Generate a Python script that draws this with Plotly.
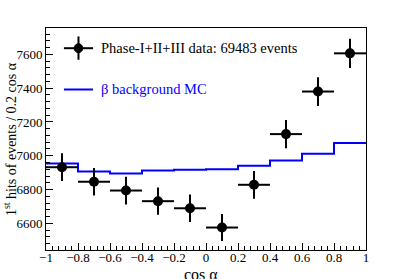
import plotly.graph_objects as go

# data points (bin centres, counts)
cos_centers = [-0.9, -0.7, -0.5, -0.3, -0.1, 0.1, 0.3, 0.5, 0.7, 0.9]
data_counts = [6932, 6846, 6794, 6731, 6689, 6575, 6828, 7128, 7380, 7606]
data_err = [82, 82, 82, 81, 81, 80, 82, 84, 85, 87]
bin_halfwidth = [0.1] * 10

# MC histogram (bin edges, contents)
mc_edges = [-1.0, -0.8, -0.6, -0.4, -0.2, 0.0, 0.2, 0.4, 0.6, 0.8, 1.0]
mc_counts = [6954, 6907, 6895, 6913, 6917, 6920, 6940, 6972, 7012, 7075]

x_ticks = [-1, -0.8, -0.6, -0.4, -0.2, 0, 0.2, 0.4, 0.6, 0.8, 1]
x_ticklabels = ["−1", "−0.8", "−0.6", "−0.4", "−0.2", "0", "0.2", "0.4", "0.6", "0.8", "1"]
y_ticks = [6600, 6800, 7000, 7200, 7400, 7600]

FONT = "Liberation Serif"

fig = go.Figure()
fig.add_trace(go.Scatter(
    x=mc_edges, y=mc_counts + [mc_counts[-1]], mode="lines",
    line=dict(color="#0000ff", width=2, shape="hv"), showlegend=False, hoverinfo="skip"))
fig.add_trace(go.Scatter(
    x=cos_centers, y=data_counts, mode="markers",
    marker=dict(color="black", size=10, symbol="circle"),
    error_y=dict(type="data", array=data_err, color="black", thickness=2, width=0),
    error_x=dict(type="data", array=bin_halfwidth, color="black", thickness=2, width=0),
    showlegend=False))

# legend (drawn manually to mimic ROOT style)
fig.add_shape(type="line", xref="paper", yref="paper", x0=0.056, x1=0.147, y0=0.909, y1=0.909,
              line=dict(color="black", width=2))
fig.add_shape(type="line", xref="paper", yref="paper", x0=0.1015, x1=0.1015, y0=0.857, y1=0.962,
              line=dict(color="black", width=2))
fig.add_shape(type="circle", xref="paper", yref="paper", x0=0.088, x1=0.115, y0=0.889, y1=0.929,
              fillcolor="black", line=dict(color="black", width=1))
fig.add_shape(type="line", xref="paper", yref="paper", x0=0.056, x1=0.147, y0=0.723, y1=0.723,
              line=dict(color="#0000ff", width=2))
fig.add_annotation(xref="paper", yref="paper", x=0.166, y=0.909, xanchor="left", yanchor="middle",
                   text="Phase-I+II+III data: 69483 events", showarrow=False,
                   font=dict(family=FONT, size=14.5, color="black"))
fig.add_annotation(xref="paper", yref="paper", x=0.166, y=0.727, xanchor="left", yanchor="middle",
                   text="β background MC", showarrow=False,
                   font=dict(family=FONT, size=14.5, color="#0000ff"))

# axis titles
fig.add_annotation(xref="paper", yref="paper", x=0.484, y=-0.062, xanchor="center", yanchor="top",
                   text="cos α", showarrow=False, font=dict(family=FONT, size=16, color="black"))
fig.add_annotation(xref="paper", yref="paper", x=-0.1125, y=0.5, xanchor="center", yanchor="middle",
                   textangle=-90, text="1<sup>st</sup> hits of events / 0.2 cos α", showarrow=False,
                   font=dict(family=FONT, size=14, color="black"))

fig.update_layout(
    width=407, height=279,
    margin=dict(l=46, r=41, t=28, b=29),
    paper_bgcolor="white", plot_bgcolor="white",
    font=dict(family=FONT, size=13, color="black"),
    xaxis=dict(range=[-1, 1], tickvals=x_ticks, ticktext=x_ticklabels, ticks="inside", ticklen=7,
               tickwidth=1, tickcolor="black", showline=True, linecolor="black", linewidth=1,
               mirror=True, showgrid=False, zeroline=False, automargin=False,
               ticklabelstandoff=-5,
               minor=dict(ticks="inside", ticklen=4, dtick=0.04, tickcolor="black", showgrid=False)),
    yaxis=dict(range=[6442, 7756], tickvals=y_ticks, ticks="inside", ticklen=7, tickwidth=1,
               tickcolor="black", showline=True, linecolor="black", linewidth=1, mirror=True,
               showgrid=False, zeroline=False, automargin=False,
               minor=dict(ticks="inside", ticklen=4, dtick=40, tickcolor="black", showgrid=False)),
)

fig.write_html("out.html", config={"displayModeBar": False},
               post_script="document.body.style.margin='0';document.body.style.overflow='hidden';")
